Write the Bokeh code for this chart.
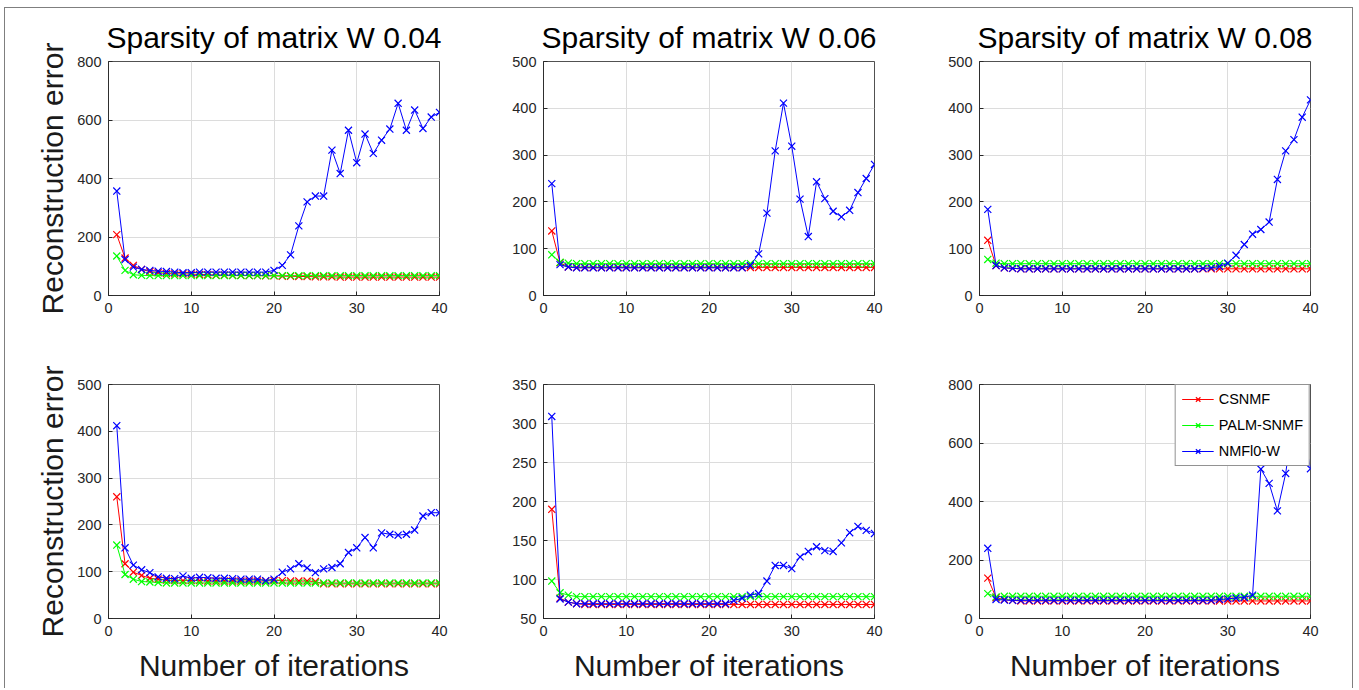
from bokeh.plotting import figure
from bokeh.layouts import column, row
from bokeh.models import Range1d, FixedTicker, Legend, LegendItem, ColumnDataSource
from bokeh.embed import file_html
from bokeh.resources import INLINE

# ---------------- data ----------------
iterations = list(range(1, 41))
legend_labels = ["CSNMF", "PALM-SNMF", "NMFl0-W"]
titles = ["Sparsity of matrix W 0.04", "Sparsity of matrix W 0.06", "Sparsity of matrix W 0.08"]
x_ticks = [0, 10, 20, 30, 40]

# top row, W 0.04
red1 = [208, 128, 103, 89, 82, 78, 75, 74, 74, 73, 72, 71, 70, 70, 69, 69, 68, 68, 67, 67,
        66, 66, 65, 65, 64, 64, 64, 63, 63, 63, 63, 63, 63, 63, 63, 63, 63, 63, 63, 63]
green1 = [135, 86, 71, 69, 68, 68, 68, 68, 68, 68, 68, 68, 68, 68, 68, 68, 68, 68, 68, 68,
          68, 68, 68, 68, 68, 68, 68, 68, 68, 68, 68, 68, 68, 68, 68, 68, 68, 68, 68, 68]
blue1 = [357, 123, 97, 89, 86, 83, 82, 80, 78, 78, 80, 80, 80, 80, 80, 80, 80, 80, 80, 86,
         103, 139, 238, 320, 340, 340, 497, 417, 565, 454, 552, 486, 531, 569, 657, 565, 634, 571, 610, 626]
yticks1 = [0, 200, 400, 600, 800]

# top row, W 0.06
red2 = [138, 70, 61, 60, 60, 60, 60, 60, 60, 60, 60, 60, 60, 60, 60, 60, 60, 60, 60, 60,
        60, 60, 60, 60, 60, 60, 60, 60, 60, 60, 60, 60, 60, 60, 60, 60, 60, 60, 60, 60]
green2 = [87, 71, 69, 68, 68, 68, 68, 68, 68, 68, 68, 68, 68, 68, 68, 68, 68, 68, 68, 68,
          68, 68, 68, 68, 68, 68, 68, 68, 68, 68, 68, 68, 68, 68, 68, 68, 68, 68, 68, 68]
blue2 = [239, 66, 61, 59, 59, 59, 59, 59, 59, 59, 59, 59, 59, 59, 59, 59, 59, 59, 59, 59,
         59, 59, 59, 59, 64, 89, 176, 309, 411, 319, 206, 126, 243, 207, 180, 168, 182, 220, 250, 280]
yticks2 = [0, 100, 200, 300, 400, 500]

# top row, W 0.08
red3 = [118, 64, 59, 58, 57, 57, 57, 57, 57, 57, 57, 57, 57, 57, 57, 57, 57, 57, 57, 57,
        57, 57, 57, 57, 57, 57, 57, 57, 57, 57, 57, 57, 57, 57, 57, 57, 57, 57, 57, 57]
green3 = [77, 69, 68, 68, 68, 68, 68, 68, 68, 68, 68, 68, 68, 68, 68, 68, 68, 68, 68, 68,
          68, 68, 68, 68, 68, 68, 68, 68, 68, 68, 68, 68, 68, 68, 68, 68, 68, 68, 68, 68]
blue3 = [184, 64, 59, 58, 57, 57, 57, 57, 57, 57, 57, 57, 57, 57, 57, 57, 57, 57, 57, 57,
         57, 57, 57, 57, 57, 57, 58, 59, 62, 69, 86, 109, 131, 141, 157, 248, 309, 333, 381, 418]
yticks3 = [0, 100, 200, 300, 400, 500]

# bottom row, left
red4 = [260, 117, 99, 92, 86, 84, 82, 81, 81, 81, 81, 80, 80, 80, 80, 80, 80, 80, 80, 81,
        81, 80, 80, 80, 79, 74, 74, 74, 74, 74, 74, 74, 74, 74, 74, 74, 74, 74, 74, 74]
green4 = [157, 94, 84, 79, 78, 77, 76, 76, 76, 76, 76, 76, 76, 76, 76, 76, 76, 76, 76, 76,
          76, 76, 76, 76, 76, 76, 76, 76, 76, 76, 76, 76, 76, 76, 76, 76, 76, 76, 76, 76]
blue4 = [412, 151, 114, 104, 98, 89, 86, 85, 91, 86, 88, 87, 86, 86, 85, 84, 84, 84, 81, 84,
         99, 106, 117, 108, 98, 106, 109, 117, 141, 151, 173, 151, 183, 180, 178, 180, 189, 219, 226, 226]
yticks4 = [0, 100, 200, 300, 400, 500]

# bottom row, middle
red5 = [190, 76, 71, 69, 68, 68, 68, 68, 68, 68, 68, 68, 68, 68, 68, 68, 68, 68, 68, 68,
        68, 68, 68, 68, 68, 68, 68, 68, 68, 68, 68, 68, 68, 68, 68, 68, 68, 68, 68, 68]
green5 = [98, 83, 80, 78, 78, 78, 78, 78, 78, 78, 78, 78, 78, 78, 78, 78, 78, 78, 78, 78,
          78, 78, 78, 78, 78, 78, 78, 78, 78, 78, 78, 78, 78, 78, 78, 78, 78, 78, 78, 78]
blue5 = [309, 75, 71, 69, 69, 69, 69, 69, 69, 69, 69, 69, 69, 69, 69, 69, 69, 69, 69, 69,
         69, 69, 73, 76, 80, 82, 98, 118, 118, 114, 129, 136, 142, 137, 136, 147, 160, 168, 163, 159]
yticks5 = [50, 100, 150, 200, 250, 300, 350]

# bottom row, right
red6 = [138, 71, 65, 62, 60, 60, 60, 60, 60, 60, 60, 60, 60, 60, 60, 60, 60, 60, 60, 60,
        60, 60, 60, 60, 60, 60, 60, 60, 60, 60, 60, 60, 60, 60, 60, 60, 60, 60, 60, 60]
green6 = [85, 74, 76, 76, 76, 76, 76, 76, 76, 76, 76, 76, 76, 76, 76, 76, 76, 76, 76, 76,
          76, 76, 76, 76, 76, 76, 76, 76, 76, 76, 76, 76, 76, 76, 76, 76, 76, 76, 76, 76]
blue6 = [240, 65, 63, 62, 62, 62, 62, 62, 62, 62, 62, 62, 62, 62, 62, 62, 62, 62, 62, 62,
         62, 62, 62, 62, 62, 62, 62, 62, 65, 67, 70, 72, 80, 511, 462, 368, 496, 700, 660, 512]
yticks6 = [0, 200, 400, 600, 800]

# ---------------- style ----------------
FONT = "Liberation Sans"
COLORS = ["#ff0000", "#00ff00", "#0000ff"]
AXIS_COLOR = "#262626"
FRAME_W, FRAME_H = 331, 234


def make_panel(title, yticks, red, green, blue, bl, br, bt, bb,
               ylabel=False, xlabel=False, legend=False):
    p = figure(frame_width=FRAME_W, frame_height=FRAME_H,
               x_range=Range1d(0, 40), y_range=Range1d(yticks[0], yticks[-1]),
               output_backend="svg", toolbar_location=None,
               min_border_left=bl, min_border_right=br,
               min_border_top=bt, min_border_bottom=bb,
               background_fill_color="white", border_fill_color=None)
    if title:
        p.title.text = title
        p.title.align = "center"
        p.title.text_font = FONT
        p.title.text_font_size = "30px"
        p.title.text_font_style = "normal"
        p.title.text_color = "#000000"
        p.title.standoff = 15
    p.outline_line_color = AXIS_COLOR
    p.outline_line_alpha = 0.8
    p.outline_line_width = 1

    p.xaxis.ticker = FixedTicker(ticks=x_ticks)
    p.yaxis.ticker = FixedTicker(ticks=yticks)
    for ax in (p.xaxis[0], p.yaxis[0]):
        ax.axis_line_color = AXIS_COLOR
        ax.axis_line_alpha = 0.8
        ax.major_tick_in = 4
        ax.major_tick_out = 0
        ax.major_tick_line_color = AXIS_COLOR
        ax.minor_tick_line_color = None
        ax.major_label_text_font = FONT
        ax.major_label_text_font_size = "14.5px"
        ax.major_label_text_color = AXIS_COLOR
        ax.major_label_standoff = 7
        ax.axis_label_text_font = FONT
        ax.axis_label_text_font_size = "30px"
        ax.axis_label_text_font_style = "normal"
        ax.axis_label_text_color = "#1a1a1a"
    if ylabel:
        p.yaxis.axis_label = "Reconstruction error"
        p.yaxis.axis_label_standoff = 5
    if xlabel:
        p.xaxis.axis_label = "Number of iterations"
        p.xaxis.axis_label_standoff = 10

    p.xgrid.grid_line_color = "#dcdcdc"
    p.ygrid.grid_line_color = "#dcdcdc"

    items = []
    for vals, col, name in zip((red, green, blue), COLORS, legend_labels):
        src = ColumnDataSource(dict(x=iterations, y=vals))
        ln = p.line("x", "y", source=src, line_color=col, line_width=1)
        sc = p.scatter("x", "y", source=src, marker="x", size=10,
                       line_color=col, line_width=1.2)
        items.append(LegendItem(label=name, renderers=[ln, sc]))
    if legend:
        lg = Legend(items=items, location="top_right", margin=0, padding=6,
                    spacing=10, glyph_width=32, glyph_height=16, label_height=16,
                    label_standoff=5, label_text_font=FONT,
                    label_text_font_size="14.5px", label_text_color="#000000",
                    border_line_color=AXIS_COLOR, border_line_width=1,
                    background_fill_color="white", background_fill_alpha=1.0)
        p.add_layout(lg)
    return p


p1 = make_panel(titles[0], yticks1, red1, green1, blue1, 108, 20, 61, 40, ylabel=True)
p2 = make_panel(titles[1], yticks2, red2, green2, blue2, 84, 20, 61, 40)
p3 = make_panel(titles[2], yticks3, red3, green3, blue3, 85, 47, 61, 40)
p4 = make_panel(None, yticks4, red4, green4, blue4, 108, 20, 49, 70, ylabel=True, xlabel=True)
p5 = make_panel(None, yticks5, red5, green5, blue5, 84, 20, 49, 70, xlabel=True)
p6 = make_panel(None, yticks6, red6, green6, blue6, 85, 47, 49, 70, xlabel=True, legend=True)

# thin grey frame around the whole figure (left, top and right edges)
frame_css = ("inset 4px 0 0 0 #ffffff, inset 0 7px 0 0 #ffffff, inset -4px 0 0 0 #ffffff, "
             "inset 5px 0 0 0 #7f7f7f, inset 0 8px 0 0 #7f7f7f, inset -5px 0 0 0 #7f7f7f")
layout = column(row(p1, p2, p3), row(p4, p5, p6),
                styles={"box-shadow": frame_css, "background-color": "#ffffff"})

open("out.html", "w").write(file_html(layout, INLINE))
